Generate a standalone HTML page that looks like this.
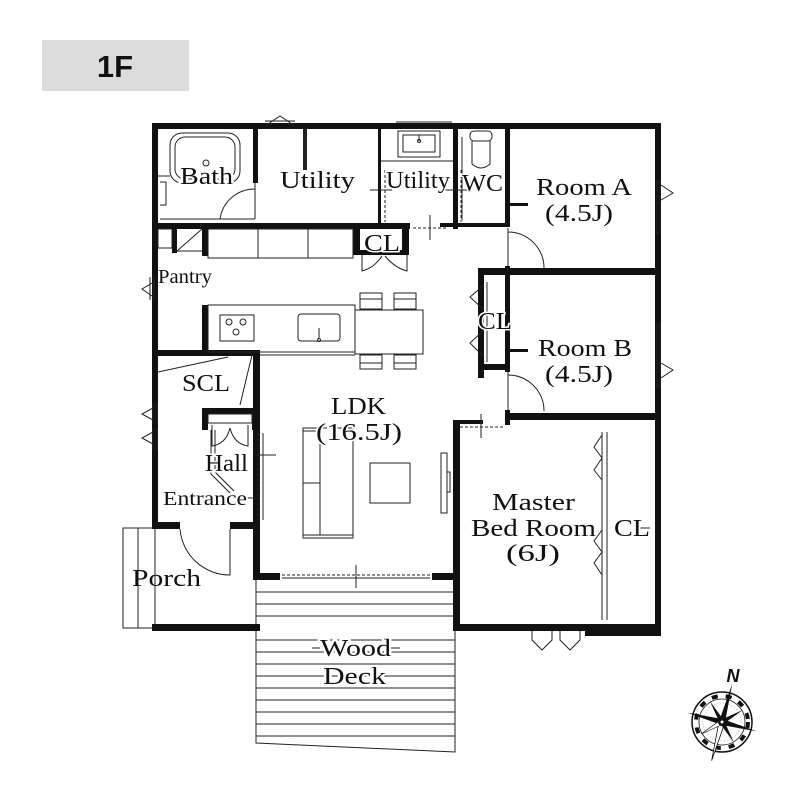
<!DOCTYPE html>
<html><head><meta charset="utf-8"><style>
html,body{margin:0;padding:0;background:#fff}
svg{display:block}
text{font-family:"Liberation Serif",serif;fill:#111}
</style></head><body>
<svg width="800" height="800" viewBox="0 0 800 800" xmlns="http://www.w3.org/2000/svg">
<rect x="0" y="0" width="800" height="800" fill="#fff"/>
<rect x="42" y="40" width="147" height="51" fill="#dcdcdc"/>
<text x="115" y="77" font-weight="bold" font-size="31" text-anchor="middle" style="font-family:'Liberation Sans',sans-serif">1F</text>

<g stroke="#222" stroke-width="1" fill="none">
<path d="M256 580 L256 743 L455 752 L455 580"/>
<line x1="256" y1="592" x2="455" y2="592"/><line x1="256" y1="604" x2="455" y2="604"/><line x1="256" y1="616" x2="455" y2="616"/>
<line x1="256" y1="640" x2="455" y2="640"/><line x1="256" y1="652" x2="455" y2="652"/><line x1="256" y1="664" x2="455" y2="664"/>
<line x1="256" y1="676" x2="455" y2="676"/><line x1="256" y1="688" x2="455" y2="688"/><line x1="256" y1="700" x2="455" y2="700"/>
<line x1="256" y1="712" x2="455" y2="712"/><line x1="256" y1="724" x2="455" y2="724"/><line x1="256" y1="736" x2="455" y2="736"/>
<path d="M155 528 L123 528 L123 628 L155 628"/>
<line x1="138" y1="528" x2="138" y2="628"/><line x1="155" y1="528" x2="155" y2="628"/>
</g>

<g fill="#111">
<rect x="152" y="123" width="509" height="6"/>
<rect x="152" y="123" width="6" height="405"/>
<rect x="655" y="123" width="6" height="513"/>
<rect x="253" y="129" width="5" height="54"/>
<rect x="152" y="223" width="258" height="6"/>
<rect x="453" y="129" width="5" height="100"/>
<rect x="505" y="129" width="5" height="96"/>
<rect x="378" y="129" width="3" height="100"/>
<rect x="440" y="223" width="70" height="4"/>
<rect x="505" y="266" width="5" height="106"/>
<rect x="478" y="268" width="183" height="7"/>
<rect x="478" y="268" width="6" height="110"/>
<rect x="478" y="364" width="32" height="6"/>
<rect x="505" y="410" width="5" height="15"/>
<rect x="505" y="413" width="156" height="7"/>
<rect x="453" y="420" width="7" height="211"/>
<rect x="453" y="624" width="208" height="7"/>
<rect x="585" y="624" width="76" height="12"/>
<rect x="453" y="420" width="30" height="4"/>
<rect x="353" y="223" width="7" height="32"/>
<rect x="402" y="223" width="7" height="32"/>
<rect x="353" y="250" width="56" height="5"/>
<rect x="172" y="229" width="5" height="24"/>
<rect x="202" y="229" width="6" height="27"/>
<rect x="202" y="305" width="6" height="50"/>
<rect x="152" y="350" width="108" height="6"/>
<rect x="253" y="350" width="7" height="230"/>
<rect x="253" y="573" width="27" height="7"/>
<rect x="432" y="573" width="28" height="7"/>
<rect x="202" y="408" width="56" height="6"/>
<rect x="202" y="408" width="6" height="22"/>
<rect x="252" y="408" width="6" height="22"/>
<rect x="152" y="522" width="28" height="7"/>
<rect x="230" y="522" width="30" height="7"/>
<rect x="152" y="624" width="108" height="7"/>
<rect x="510" y="203" width="18" height="3"/>
<rect x="510" y="349" width="18" height="3"/>
</g>

<g stroke="#222" stroke-width="1" fill="none">
<path d="M265 126 L280 116 L295 126"/><line x1="265" y1="121" x2="295" y2="121"/>
<line x1="396" y1="122" x2="452" y2="122"/>
<rect x="170" y="133" width="70" height="50" rx="12"/>
<rect x="175" y="137" width="60" height="42" rx="10"/>
<circle cx="206" cy="163" r="3"/>
<path d="M158 176 L170 176 M160 182 L166 182 L166 205 L160 205"/>
<path d="M255 183 L255 219 M255 189 A35 35 0 0 0 220 219 L255 219"/>
<line x1="160" y1="219" x2="253" y2="219"/>
<line x1="305" y1="129" x2="305" y2="170" stroke-width="4"/>
<rect x="398" y="131" width="42" height="26"/><rect x="403" y="135" width="32" height="17"/>
<line x1="419" y1="135" x2="419" y2="141"/><circle cx="419" cy="141" r="1.5"/>
<line x1="381" y1="161" x2="453" y2="161"/>
<rect x="470" y="131" width="22" height="10" rx="4"/>
<path d="M472 141 L472 164 Q481 172 490 164 L490 141"/>
<line x1="462" y1="137" x2="462" y2="220"/>
<g stroke-dasharray="3 2"><line x1="385" y1="170" x2="385" y2="222"/><line x1="461" y1="170" x2="461" y2="222"/><line x1="413" y1="228" x2="448" y2="228"/></g>
<line x1="370" y1="190" x2="392" y2="190"/><line x1="445" y1="190" x2="467" y2="190"/><line x1="430" y1="215" x2="430" y2="240"/>
<path d="M508 228 L508 266 M508 232 A36 36 0 0 1 544 268"/>
<path d="M508 372 L508 410 M508 375 A36 36 0 0 1 544 411"/>
<path d="M484 285 L470 297 L484 310 M484 330 L470 343 L484 357"/><line x1="487" y1="282" x2="487" y2="362"/>
<path d="M657 180 L657 235 M660 180 L660 235 M661 185 L673 193 L661 200"/>
<path d="M657 323 L657 388 M660 323 L660 388 M661 363 L673 370 L661 378"/>
<line x1="602" y1="432" x2="602" y2="620"/><line x1="607" y1="432" x2="607" y2="620"/>
<path d="M602 435 L594 447 L602 458 L594 470 L602 480 M602 530 L594 541 L602 552 L594 563 L602 575"/>
<line x1="640" y1="528" x2="650" y2="528"/>
<path d="M532 631 L532 640 L542 650 L552 640 L552 631 M560 631 L560 640 L570 650 L580 640 L580 631"/>
<line x1="460" y1="427" x2="505" y2="427" stroke-dasharray="3 2"/><line x1="481" y1="414" x2="481" y2="438"/>
<rect x="208" y="229" width="145" height="29"/><line x1="258" y1="229" x2="258" y2="258"/><line x1="308" y1="229" x2="308" y2="258"/>
<rect x="158" y="229" width="14" height="19"/>
<line x1="177" y1="251" x2="202" y2="229"/><line x1="177" y1="251" x2="202" y2="251"/>
<path d="M362 255 L362 271 Q374 268 382 256 M407 255 L407 271 Q395 268 385 256"/>
<path d="M150 277 L150 300 M154 277 L154 300 M152 283 L142 289 L152 296"/>
<rect x="208" y="305" width="147" height="47"/>
<rect x="220" y="315" width="34" height="26"/><circle cx="229" cy="322" r="3"/><circle cx="243" cy="322" r="3"/><circle cx="236" cy="332" r="3"/>
<rect x="298" y="314" width="42" height="27" rx="3"/><line x1="319" y1="328" x2="319" y2="339"/><circle cx="319" cy="340" r="1.5"/>
<rect x="355" y="310" width="68" height="44"/>
<rect x="360" y="293" width="22" height="16"/><line x1="360" y1="299" x2="382" y2="299"/>
<rect x="394" y="293" width="22" height="16"/><line x1="394" y1="299" x2="416" y2="299"/>
<rect x="360" y="355" width="22" height="14"/><line x1="360" y1="363" x2="382" y2="363"/>
<rect x="394" y="355" width="22" height="14"/><line x1="394" y1="363" x2="416" y2="363"/>
<line x1="260" y1="355" x2="355" y2="355"/>
<line x1="158" y1="372" x2="228" y2="357"/>
<line x1="240" y1="405" x2="252" y2="355"/>
<path d="M153 403 L153 424 M157 403 L157 424 M153 408 L142 414 L153 420"/>
<path d="M153 428 L153 450 M157 428 L157 450 M153 432 L142 438 L153 444"/>
<rect x="208" y="414" width="44" height="9"/>
<path d="M212 425 L212 446 Q226 444 230 428 M248 425 L248 446 Q234 444 230 428"/>
<path d="M211 430 L211 474 L230 493 M215 430 L215 472 L234 491"/>
<line x1="263" y1="433" x2="263" y2="520"/><line x1="258" y1="433" x2="258" y2="520" stroke-dasharray="3 2"/>
<line x1="255" y1="455" x2="276" y2="455"/>
<line x1="247" y1="498" x2="253" y2="498"/>
<path d="M180 529 A50 50 0 0 0 230 575 L230 529"/>
<line x1="282" y1="575" x2="430" y2="575" stroke-dasharray="3 2"/><line x1="282" y1="578" x2="430" y2="578"/><line x1="356" y1="565" x2="356" y2="588"/>
<rect x="303" y="428" width="50" height="110"/><rect x="303" y="431" width="17" height="104"/><line x1="303" y1="483" x2="320" y2="483"/><line x1="320" y1="535" x2="353" y2="535"/>
<rect x="370" y="463" width="40" height="40"/>
<rect x="441" y="453" width="6" height="60"/><rect x="447" y="472" width="3" height="20"/>
</g>

<g font-size="24" lengthAdjust="spacingAndGlyphs">
<text x="180" y="184" textLength="53" lengthAdjust="spacingAndGlyphs" stroke="#fff" stroke-width="4" paint-order="stroke">Bath</text>
<text x="280" y="188" textLength="75" lengthAdjust="spacingAndGlyphs">Utility</text>
<text x="386" y="188" textLength="64" lengthAdjust="spacingAndGlyphs" stroke="#fff" stroke-width="3" paint-order="stroke">Utility</text>
<text x="462" y="191" textLength="41" lengthAdjust="spacingAndGlyphs" stroke="#fff" stroke-width="3" paint-order="stroke">WC</text>
<text x="536" y="195" textLength="96" lengthAdjust="spacingAndGlyphs">Room A</text>
<text x="545" y="221" textLength="68" lengthAdjust="spacingAndGlyphs">(4.5J)</text>
<text x="364" y="251" textLength="36" lengthAdjust="spacingAndGlyphs" stroke="#fff" stroke-width="3" paint-order="stroke">CL</text>
<text x="158" y="283" textLength="54" lengthAdjust="spacingAndGlyphs" font-size="20">Pantry</text>
<text x="478" y="329" textLength="34" lengthAdjust="spacingAndGlyphs" stroke="#fff" stroke-width="3" paint-order="stroke">CL</text>
<text x="538" y="356" textLength="94" lengthAdjust="spacingAndGlyphs">Room B</text>
<text x="545" y="382" textLength="68" lengthAdjust="spacingAndGlyphs">(4.5J)</text>
<text x="182" y="391" textLength="48" lengthAdjust="spacingAndGlyphs" stroke="#fff" stroke-width="4" paint-order="stroke">SCL</text>
<text x="331" y="414" textLength="55" lengthAdjust="spacingAndGlyphs">LDK</text>
<text x="316" y="440" textLength="86" lengthAdjust="spacingAndGlyphs" stroke="#fff" stroke-width="3" paint-order="stroke">(16.5J)</text>
<text x="205" y="471" textLength="43" lengthAdjust="spacingAndGlyphs" stroke="#fff" stroke-width="3" paint-order="stroke">Hall</text>
<text x="163" y="505" textLength="84" lengthAdjust="spacingAndGlyphs" font-size="20" stroke="#fff" stroke-width="3" paint-order="stroke">Entrance</text>
<text x="492" y="510" textLength="83" lengthAdjust="spacingAndGlyphs">Master</text>
<text x="471" y="536" textLength="125" lengthAdjust="spacingAndGlyphs">Bed Room</text>
<text x="506" y="561" textLength="54" lengthAdjust="spacingAndGlyphs">(6J)</text>
<text x="614" y="536" textLength="36" lengthAdjust="spacingAndGlyphs" stroke="#fff" stroke-width="3" paint-order="stroke">CL</text>
<text x="132" y="586" textLength="69" lengthAdjust="spacingAndGlyphs">Porch</text>
<text x="320" y="656" textLength="71" lengthAdjust="spacingAndGlyphs" stroke="#fff" stroke-width="4" paint-order="stroke">Wood</text>
<text x="323" y="684" textLength="63" lengthAdjust="spacingAndGlyphs" stroke="#fff" stroke-width="4" paint-order="stroke">Deck</text>
</g>
<g stroke="#222" stroke-width="1">
<line x1="312" y1="648" x2="320" y2="648"/><line x1="391" y1="648" x2="400" y2="648"/>
<line x1="315" y1="676" x2="323" y2="676"/><line x1="386" y1="676" x2="396" y2="676"/>
</g>

<g transform="translate(722,722)">
<text x="11" y="-40" font-weight="bold" font-style="italic" font-size="18" text-anchor="middle" style="font-family:'Liberation Sans',sans-serif">N</text>
<circle r="30" fill="#fff" stroke="#111" stroke-width="1.5"/>
<circle r="26" fill="none" stroke="#111" stroke-width="4" stroke-dasharray="6 8"/>
<circle r="23" fill="none" stroke="#111" stroke-width="0.8"/>
<circle r="19" fill="none" stroke="#888" stroke-width="0.6" stroke-dasharray="1 2"/>
<g transform="rotate(15)" fill="#111">
<polygon points="0,-40 3,0 -3,0"/><polygon points="0,40 3,0 -3,0" fill="#fff" stroke="#111" stroke-width="0.8"/>
<polygon points="-36,0 0,3 0,-3"/><polygon points="36,0 0,3 0,-3"/>
<g transform="rotate(45)"><polygon points="0,-24 2.5,0 -2.5,0"/><polygon points="0,24 2.5,0 -2.5,0" fill="#fff" stroke="#111" stroke-width="0.6"/><polygon points="-24,0 0,2.5 0,-2.5"/><polygon points="24,0 0,2.5 0,-2.5"/></g>
</g>
<circle r="4" fill="#111"/><circle r="1.5" fill="#fff"/>
</g>
</svg>
</body></html>
